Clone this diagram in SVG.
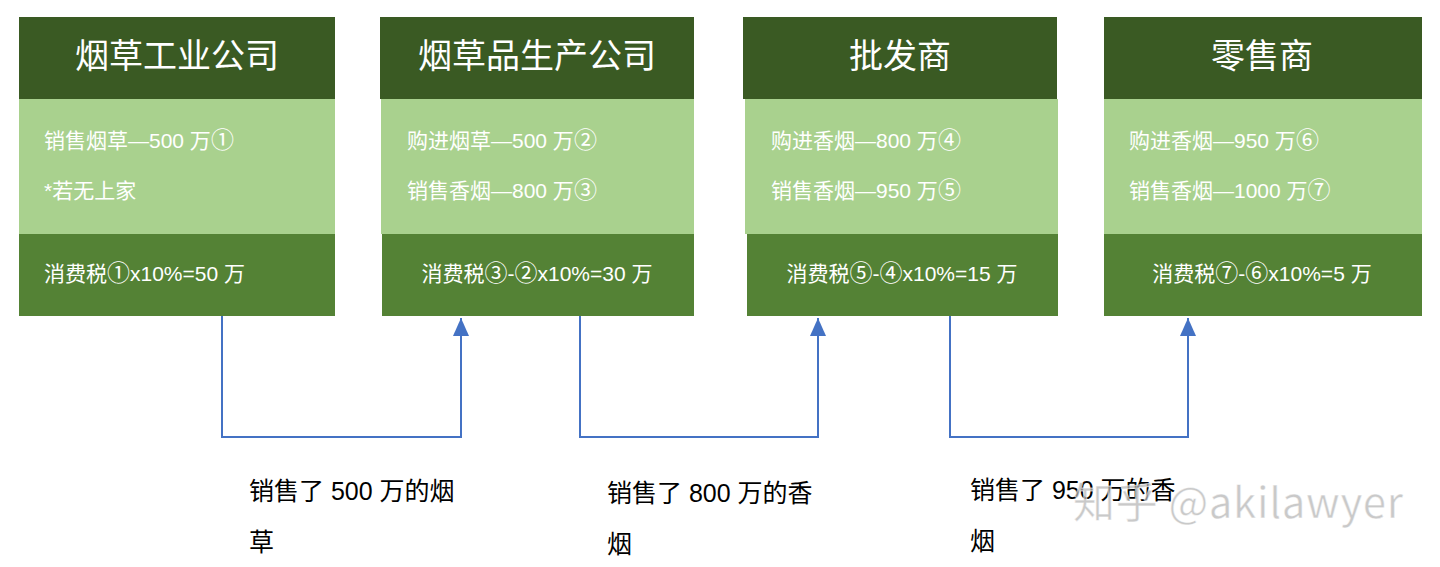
<svg xmlns="http://www.w3.org/2000/svg" width="1440" height="567" viewBox="0 0 1440 567">
<defs>
<style>
.hd{fill:#3a5a23}
.md{fill:#a9d18e}
.bt{fill:#548235}
.t{font-family:"Noto Sans CJK SC","Liberation Sans",sans-serif;font-size:34px;fill:#ffffff;text-anchor:middle}
.b{font-family:"Liberation Sans","Noto Sans CJK SC",sans-serif;font-size:21px;fill:#ffffff}
.n{font-family:"Noto Sans CJK SC",sans-serif;font-size:23px}
.c{text-anchor:middle}
.l{font-family:"Liberation Sans","Noto Sans CJK SC",sans-serif;font-size:25px;fill:#000000}
.cn{fill:none;stroke:#4472c4;stroke-width:2}
.wm{font-family:"Noto Sans CJK SC","Liberation Sans",sans-serif;font-size:42px;fill:#b8b8b8;fill-opacity:0.75;stroke:#ffffff;stroke-width:1;stroke-opacity:0.6}
</style>
<marker id="arw" viewBox="0 0 18 16" refX="18" refY="8" markerWidth="18" markerHeight="16" markerUnits="userSpaceOnUse" orient="auto">
<path d="M0,0 L18,8 L0,16 z" fill="#4472c4"/>
</marker>
</defs>
<rect width="1440" height="567" fill="#ffffff"/>

<g id="node1">
<rect class="hd" x="19" y="17" width="316" height="82"/>
<rect class="md" x="19" y="99" width="316" height="135"/>
<rect class="bt" x="19" y="234" width="316" height="82"/>
<text class="t" x="177" y="68">烟草工业公司</text>
<text class="b" x="44" y="148">销售烟草—500 万<tspan class="n">①</tspan></text>
<text class="b" x="44" y="198">*若无上家</text>
<text class="b" x="44" y="281">消费税<tspan class="n">①</tspan>x10%=50 万</text>
</g>

<g id="node2">
<rect class="hd" x="380" y="17" width="314" height="82"/>
<rect class="md" x="381" y="99" width="313" height="135"/>
<rect class="bt" x="382" y="234" width="312" height="82"/>
<text class="t" x="537" y="68">烟草品生产公司</text>
<text class="b" x="407" y="148">购进烟草—500 万<tspan class="n">②</tspan></text>
<text class="b" x="407" y="198">销售香烟—800 万<tspan class="n">③</tspan></text>
<text class="b c" x="537" y="281">消费税<tspan class="n">③</tspan>-<tspan class="n">②</tspan>x10%=30 万</text>
</g>

<g id="node3">
<rect class="hd" x="743" y="17" width="314" height="82"/>
<rect class="md" x="745" y="99" width="313" height="135"/>
<rect class="bt" x="747" y="234" width="311" height="82"/>
<text class="t" x="900" y="68">批发商</text>
<text class="b" x="771" y="148">购进香烟—800 万<tspan class="n">④</tspan></text>
<text class="b" x="771" y="198">销售香烟—950 万<tspan class="n">⑤</tspan></text>
<text class="b c" x="902" y="281">消费税<tspan class="n">⑤</tspan>-<tspan class="n">④</tspan>x10%=15 万</text>
</g>

<g id="node4">
<rect class="hd" x="1104" y="17" width="318" height="82"/>
<rect class="md" x="1104" y="99" width="318" height="135"/>
<rect class="bt" x="1104" y="234" width="318" height="82"/>
<text class="t" x="1262" y="68">零售商</text>
<text class="b" x="1129" y="148">购进香烟—950 万<tspan class="n">⑥</tspan></text>
<text class="b" x="1129" y="198">销售香烟—1000 万<tspan class="n">⑦</tspan></text>
<text class="b c" x="1262" y="281">消费税<tspan class="n">⑦</tspan>-<tspan class="n">⑥</tspan>x10%=5 万</text>
</g>

<g id="connectors">
<path class="cn" d="M222,316 V437 H461 V318" marker-end="url(#arw)"/>
<path class="cn" d="M580,316 V437 H818 V318" marker-end="url(#arw)"/>
<path class="cn" d="M950,316 V437 H1188 V318" marker-end="url(#arw)"/>
</g>

<g id="labels">
<text class="l" x="249" y="500">销售了 500 万的烟</text>
<text class="l" x="249" y="551">草</text>
<text class="l" x="607" y="502">销售了 800 万的香</text>
<text class="l" x="607" y="553">烟</text>
<text class="l" x="970" y="499">销售了 950 万的香</text>
<text class="l" x="970" y="550">烟</text>
</g>

<text class="wm" x="1073" y="518" textLength="330">知乎 @akilawyer</text>
</svg>
